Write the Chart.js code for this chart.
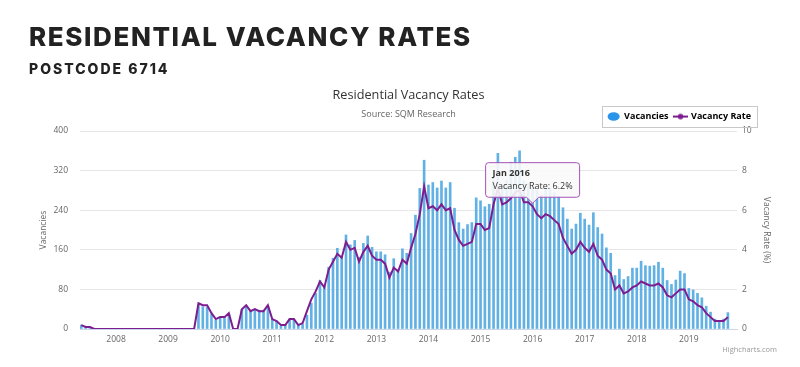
<!DOCTYPE html>
<html>
<head>
<meta charset="utf-8">
<script src="https://cdn.jsdelivr.net/npm/chart.js@4"></script>
<style>
  body { margin: 0; background: #fff; }
  #wrap { position: relative; width: 800px; height: 367px; overflow: hidden; }
  #chart { position: absolute; left: 0; top: 0; }
  .head { position: absolute; left: 29px; margin: 0; color: #222; font-family: Inter, sans-serif; font-weight: 800; line-height: 1; white-space: nowrap; }
  #h1 { top: 24px; font-size: 26px; letter-spacing: 1.6px; }
  #h2 { top: 62px; font-size: 14px; letter-spacing: 2px; }
  #credit { position: absolute; right: 23px; top: 344px; font: 7.5px 'Open Sans', sans-serif; color: #999; }
</style>
</head>
<body>
<div id="wrap">
  <canvas id="chart" width="800" height="367"></canvas>
  <div class="head" id="h1">RESIDENTIAL VACANCY RATES</div>
  <div class="head" id="h2">POSTCODE 6714</div>
  <div id="credit">Highcharts.com</div>
</div>
<script>
// monthly data, May 2007 .. Oct 2019
var monthNames = ['Jan', 'Feb', 'Mar', 'Apr', 'May', 'Jun', 'Jul', 'Aug', 'Sep', 'Oct', 'Nov', 'Dec'];
var years = [2008, 2009, 2010, 2011, 2012, 2013, 2014, 2015, 2016, 2017, 2018, 2019];
var firstMonth = -8; // May 2007, in months from Jan 2008

var vacancies = [
    8, 5, 4, 0, 0, 0, 0, 0,                                   // 2007 (May-Dec)
    0, 0, 0, 0, 0, 0, 0, 0, 0, 0, 0, 0,                       // 2008
    0, 0, 0, 0, 0, 0, 0, 48, 45, 44, 30, 18,                  // 2009
    22, 24, 30, 0, 0, 40, 46, 38, 40, 38, 38, 46,             // 2010
    20, 16, 6, 8, 20, 18, 8, 10, 28, 52, 72, 98,              // 2011
    88, 125, 143, 163, 145, 190, 170, 179, 145, 173, 188, 165, // 2012
    156, 156, 150, 115, 142, 120, 162, 153, 193, 230, 284, 341, // 2013
    291, 296, 285, 299, 285, 296, 244, 215, 202, 211, 215, 265, // 2014
    259, 247, 252, 300, 355, 290, 300, 337, 347, 360, 300, 295, // 2015
    285, 280, 270, 285, 285, 275, 268, 245, 222, 202, 212, 234, // 2016
    222, 210, 235, 205, 192, 164, 153, 108, 121, 100, 106, 123, // 2017
    123, 137, 128, 127, 128, 135, 123, 98, 90, 99, 117, 112,    // 2018
    82, 79, 72, 63, 46, 34, 20, 16, 20, 33                      // 2019 (Jan-Oct)
];

var vacancyRate = [
    0.2, 0.1, 0.1, 0, 0, 0, 0, 0,
    0, 0, 0, 0, 0, 0, 0, 0, 0, 0, 0, 0,
    0, 0, 0, 0, 0, 0, 0, 1.3, 1.2, 1.2, 0.8, 0.5,
    0.6, 0.6, 0.8, 0, 0, 1.0, 1.2, 0.9, 1.0, 0.9, 0.9, 1.2,
    0.5, 0.4, 0.2, 0.2, 0.5, 0.5, 0.2, 0.3, 0.9, 1.5, 1.9, 2.4,
    2.1, 3.0, 3.4, 3.8, 3.6, 4.4, 4.0, 4.1, 3.4, 3.9, 4.2, 3.7,
    3.5, 3.5, 3.3, 2.6, 3.1, 2.9, 3.5, 3.3, 4.1, 4.8, 5.8, 7.2,
    6.1, 6.2, 6.0, 6.3, 6.0, 6.1, 5.0, 4.5, 4.2, 4.3, 4.4, 5.3,
    5.3, 5.0, 5.1, 6.3, 7.1, 6.3, 6.4, 6.6, 6.9, 7.0, 6.4, 6.4,
    6.2, 5.8, 5.6, 5.8, 5.7, 5.5, 5.3, 4.6, 4.2, 3.8, 4.0, 4.4,
    4.1, 3.9, 4.3, 3.7, 3.5, 3.0, 2.8, 2.0, 2.2, 1.8, 1.9, 2.1,
    2.2, 2.4, 2.3, 2.2, 2.2, 2.3, 2.1, 1.7, 1.6, 1.8, 2.0, 2.0,
    1.5, 1.4, 1.2, 1.1, 0.8, 0.6, 0.4, 0.4, 0.4, 0.6
];

var monthLabels = vacancies.map(function (v, i) {
    var m = firstMonth + i;
    var mi = ((m % 12) + 12) % 12;
    return monthNames[mi] + ' ' + (2008 + Math.floor(m / 12));
});

var barColor = '#62b1e4';
var lineColor = '#7e1d8f';

// little legend symbol: line with a dot in the middle
var lineIcon = document.createElement('canvas');
lineIcon.width = 15; lineIcon.height = 8;
var ic = lineIcon.getContext('2d');
ic.strokeStyle = lineColor; ic.lineWidth = 2;
ic.beginPath(); ic.moveTo(0, 4); ic.lineTo(15, 4); ic.stroke();
ic.fillStyle = lineColor;
ic.beginPath(); ic.arc(7.5, 4, 2.8, 0, Math.PI * 2); ic.fill();

Chart.defaults.font.family = "'Open Sans', sans-serif";
Chart.defaults.color = '#666';

var legendBox = {
    id: 'legendBox',
    afterLayout: function (chart) {
        chart.legend.right = 757;
    },
    afterDraw: function (chart) {
        var hb = chart.legend.legendHitBoxes;
        if (!hb || !hb.length) return;
        var last = hb[hb.length - 1];
        var ctx = chart.ctx;
        ctx.save();
        ctx.strokeStyle = '#c8c8c8';
        ctx.lineWidth = 1;
        ctx.strokeRect(Math.round(hb[0].left - 6) + 0.5, Math.round(hb[0].top - 6) + 0.5,
            Math.round(last.left + last.width + 6 - (hb[0].left - 6)), 21);
        ctx.restore();
    }
};

var chart = new Chart(document.getElementById('chart'), {
    type: 'bar',
    data: {
        datasets: [
            {
                label: 'Vacancies',
                data: vacancies.map(function (v, i) { return {x: firstMonth + i, y: v}; }),
                backgroundColor: barColor,
                barThickness: 2,
                yAxisID: 'y',
                order: 2,
            },
            {
                type: 'line',
                label: 'Vacancy Rate',
                data: vacancyRate.map(function (v, i) { return {x: firstMonth + i, y: v}; }),
                borderColor: lineColor,
                borderWidth: 2,
                pointRadius: 0,
                tension: 0,
                yAxisID: 'y1',
                order: 1,
            }
        ]
    },
    plugins: [legendBox],
    options: {
        responsive: false,
        animation: false,
        events: [],
        layout: { padding: { top: 86.5, left: 0, right: 0, bottom: 0 } },
        scales: {
            x: {
                type: 'linear',
                min: -8.3,
                max: 143.1,
                offset: false,
                grid: { display: false, drawTicks: false },
                border: { display: true, color: '#ccd6eb' },
                afterBuildTicks: function (s) {
                    s.ticks = years.map(function (y) { return {value: (y - 2008) * 12}; });
                },
                ticks: {
                    autoSkip: false,
                    maxRotation: 0,
                    padding: 5,
                    font: { size: 8.5 },
                    color: '#666',
                    callback: function (v) { return String(2008 + Math.round(v / 12)); }
                },
                afterFit: function (s) { s.height = 38; }
            },
            y: {
                position: 'left',
                min: 0,
                max: 400,
                ticks: { stepSize: 80, padding: 12, font: { size: 8.5 }, color: '#666' },
                grid: { color: '#e6e6e6', drawTicks: false },
                border: { display: false },
                title: { display: true, text: 'Vacancies', color: '#666', font: { size: 8.5 }, padding: { top: 38, bottom: 0 } },
                afterFit: function (s) { s.width = 80; }
            },
            y1: {
                position: 'right',
                min: 0,
                max: 10,
                ticks: { stepSize: 2, padding: 5, font: { size: 8.5 }, color: '#666' },
                grid: { display: false, drawTicks: false },
                border: { display: false },
                title: { display: true, text: 'Vacancy Rate (%)', color: '#666', font: { size: 8.5 }, padding: { top: 28, bottom: 0 } },
                afterFit: function (s) { s.width = 63; }
            }
        },
        plugins: {
            title: {
                display: true,
                fullSize: false,
                text: 'Residential Vacancy Rates',
                color: '#333',
                font: { size: 12.7, weight: 'normal' },
                padding: { top: 1, bottom: 3 }
            },
            subtitle: {
                display: true,
                fullSize: false,
                text: 'Source: SQM Research',
                color: '#666',
                font: { size: 9 },
                padding: { top: 3, bottom: -13.5 }
            },
            legend: {
                position: 'top',
                align: 'end',
                labels: {
                    usePointStyle: true,
                    pointStyleWidth: 12,
                    boxHeight: 6,
                    padding: 6,
                    color: '#333',
                    font: { size: 9, weight: 'bold' },
                    generateLabels: function () {
                        return [
                            { text: 'Vacancies', pointStyle: 'circle', fillStyle: '#2a93ea', strokeStyle: '#2a93ea', lineWidth: 0, datasetIndex: 0, hidden: false },
                            { text: 'Vacancy Rate', pointStyle: lineIcon, fillStyle: lineColor, strokeStyle: lineColor, lineWidth: 0, datasetIndex: 1, hidden: false }
                        ];
                    }
                }
            },
            tooltip: {
                enabled: true,
                displayColors: false,
                xAlign: 'center',
                yAlign: 'bottom',
                backgroundColor: 'rgba(250,250,250,0.9)',
                borderColor: '#a653b8',
                borderWidth: 1,
                cornerRadius: 3,
                caretSize: 6,
                caretPadding: 3,
                padding: { top: 5, bottom: 5, left: 7, right: 7 },
                titleColor: '#333',
                bodyColor: '#333',
                titleFont: { size: 9, weight: 'bold' },
                bodyFont: { size: 9 },
                titleMarginBottom: 3,
                callbacks: {
                    title: function (items) { return monthLabels[items[0].dataIndex]; },
                    label: function (c) { return c.dataset.label + ': ' + c.parsed.y + '%'; }
                }
            }
        }
    }
});

var tipIndex = monthLabels.indexOf('Jan 2016');
chart.tooltip.setActiveElements([{datasetIndex: 1, index: tipIndex}], {x: 0, y: 0});
chart.update();
</script>
</body>
</html>
